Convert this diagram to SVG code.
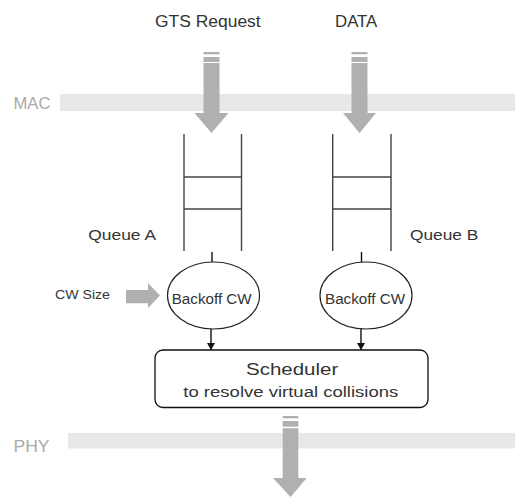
<svg xmlns="http://www.w3.org/2000/svg" width="521" height="498" viewBox="0 0 521 498">
<style>
text{font-family:"Liberation Sans",Arial,sans-serif;fill:#333;}
.lay{fill:#aaa;font-size:17px;}
.bar{fill:#e8e8e8;}
.big{fill:#b0b0b0;}
.q{stroke:#444;stroke-width:1.4;fill:none;}
.el{fill:#fff;stroke:#222;stroke-width:1.2;}
.ln{stroke:#111;stroke-width:1.4;fill:none;}
</style>
<defs>
<marker id="ah" markerWidth="8" markerHeight="10" refX="7" refY="5" orient="auto" markerUnits="userSpaceOnUse">
<path d="M0,1 L7,5 L0,9 Z" fill="#111"/>
</marker>
</defs>
<g id="layers">
<rect class="bar" x="60" y="94" width="455" height="17"/>
<text class="lay" x="13.5" y="109" textLength="37" lengthAdjust="spacingAndGlyphs">MAC</text>
<rect class="bar" x="68" y="433" width="447" height="15.5"/>
<text class="lay" x="13.5" y="452" textLength="36" lengthAdjust="spacingAndGlyphs">PHY</text>
</g>
<g id="gts">
<text x="155" y="26.7" font-size="16" textLength="105.7" lengthAdjust="spacingAndGlyphs">GTS Request</text>
<rect class="big" x="203.5" y="52" width="16" height="2.3"/>
<rect class="big" x="203.5" y="57" width="16" height="5"/>
<path class="big" d="M203.5,63 H219.5 V113 H228.5 L211.5,133 L194.5,113 H203.5 Z"/>
</g>
<g id="data">
<text x="335" y="26.7" font-size="16" textLength="42.3" lengthAdjust="spacingAndGlyphs">DATA</text>
<rect class="big" x="351.5" y="52" width="16" height="2.3"/>
<rect class="big" x="351.5" y="57" width="16" height="5"/>
<path class="big" d="M351.5,63 H367.5 V113 H376 L359.5,133 L343,113 H351.5 Z"/>
</g>
<g id="queueA">
<path class="q" d="M184,134 V251 M241.5,134 V251 M184,177 H241.5 M184,209 H241.5"/>
<text x="88.3" y="240" font-size="15" textLength="67.7" lengthAdjust="spacingAndGlyphs">Queue A</text>
</g>
<g id="queueB">
<path class="q" d="M332.7,134 V251 M391,134 V251 M332.7,177 H391 M332.7,209 H391"/>
<text x="410" y="240" font-size="15" textLength="68.3" lengthAdjust="spacingAndGlyphs">Queue B</text>
</g>
<g id="cwsize">
<text x="55" y="299" font-size="12.5" textLength="55" lengthAdjust="spacingAndGlyphs">CW Size</text>
<path class="big" d="M126,290 H148 V283 L160,295.5 L148,308 V303.3 H126 Z"/>
</g>
<g id="backoffA">
<ellipse class="el" cx="213.5" cy="295.5" rx="46" ry="33.5"/>
<text x="171.7" y="304" font-size="14" textLength="80" lengthAdjust="spacingAndGlyphs">Backoff CW</text>
</g>
<g id="backoffB">
<ellipse class="el" cx="366" cy="295.5" rx="46" ry="33.5"/>
<text x="325" y="304" font-size="14" textLength="80" lengthAdjust="spacingAndGlyphs">Backoff CW</text>
</g>
<g id="scheduler">
<rect x="155" y="350" width="273" height="57.5" rx="8" fill="#fff" stroke="#111" stroke-width="1.3"/>
<text x="246" y="375" font-size="17" textLength="92.3" lengthAdjust="spacingAndGlyphs">Scheduler</text>
<text x="183.3" y="396.7" font-size="15.5" textLength="215" lengthAdjust="spacingAndGlyphs">to resolve virtual collisions</text>
</g>
<g id="out">
<rect class="big" x="282.7" y="416" width="15.6" height="2.3"/>
<rect class="big" x="282.7" y="421" width="15.6" height="5.7"/>
<path class="big" d="M282.7,428.3 H298.3 V478 H306.7 L290.5,497 L273,478 H282.7 Z"/>
</g>
<g id="connectors">
<line class="ln" x1="212" y1="252" x2="212" y2="262"/>
<line class="ln" x1="361.5" y1="252" x2="361.5" y2="262"/>
<line class="ln" x1="211" y1="329" x2="211" y2="350" marker-end="url(#ah)"/>
<line class="ln" x1="361" y1="329" x2="361" y2="350" marker-end="url(#ah)"/>
</g>
</svg>
